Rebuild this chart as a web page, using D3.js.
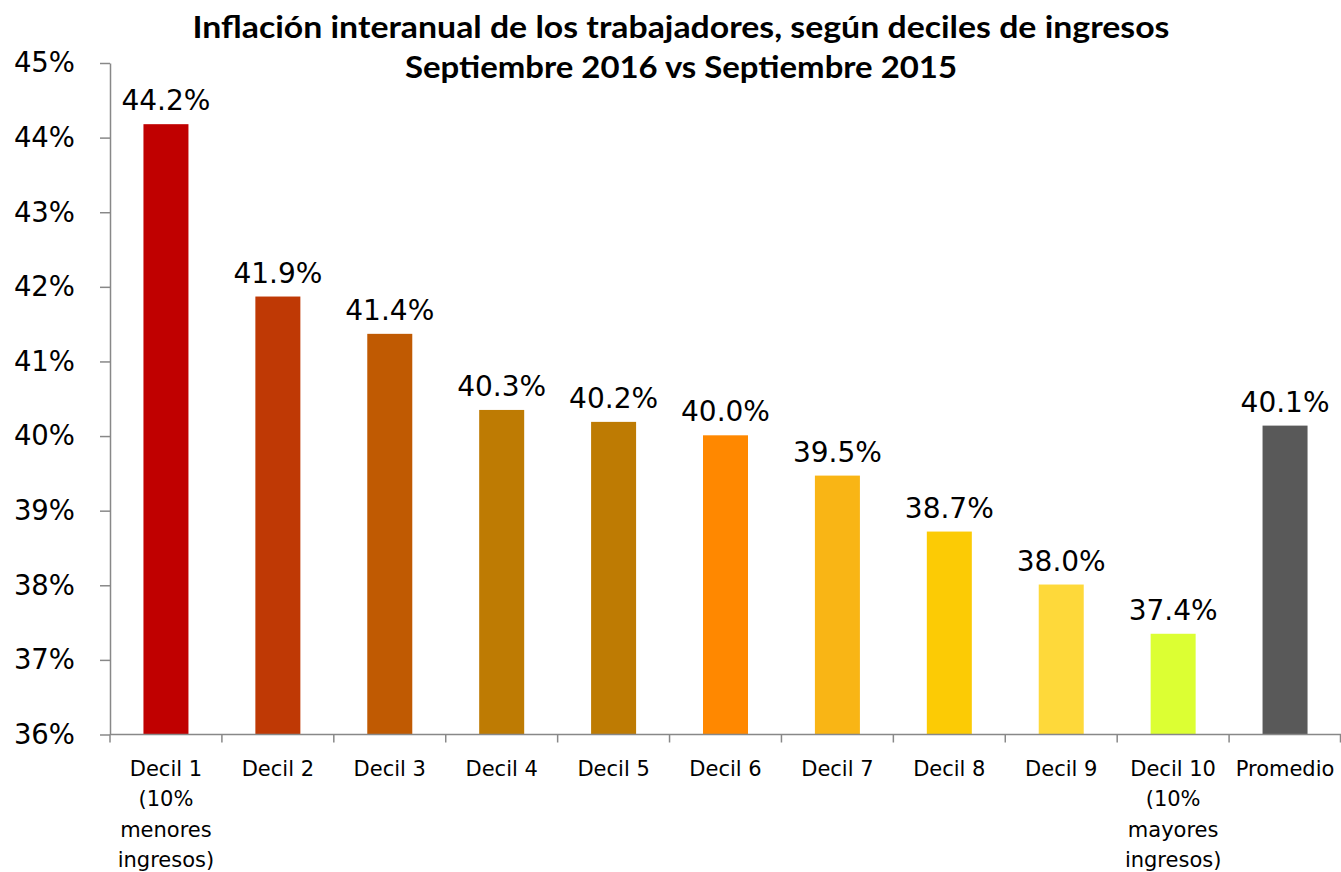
<!DOCTYPE html>
<html><head><meta charset="utf-8">
<script src="https://cdn.jsdelivr.net/npm/d3@7"></script>
<style>body{margin:0;background:#fff}svg{display:block}</style>
</head><body>
<svg id="c" width="1341" height="872"></svg>
<script>
const categories = ["Decil 1|(10%|menores|ingresos)","Decil 2","Decil 3","Decil 4","Decil 5","Decil 6","Decil 7","Decil 8","Decil 9","Decil 10|(10%|mayores|ingresos)","Promedio"];
const values = [44.18, 41.87, 41.37, 40.35, 40.19, 40.01, 39.47, 38.72, 38.01, 37.35, 40.14];
const labels = ["44.2%","41.9%","41.4%","40.3%","40.2%","40.0%","39.5%","38.7%","38.0%","37.4%","40.1%"];
const colors = ["#C00000","#BF3905","#C05A02","#BE7B03","#BE7B03","#FF8800","#F9B515","#FCCB05","#FED93A","#DCFF33","#595959"];
const yTicks = [36,37,38,39,40,41,42,43,44,45];
const titleLines = ["Inflación interanual de los trabajadores, según deciles de ingresos","Septiembre 2016 vs Septiembre 2015"];

const svg = d3.select("#c");
const xb = d3.scaleBand().domain(categories).range([110,1341]);
const y = d3.scaleLinear().domain([36,45]).range([734.5,63]);
const cx = c => xb(c)+xb.bandwidth()/2;

svg.selectAll("rect.bar").data(values).join("rect")
  .attr("x",(d,i)=>cx(categories[i])-22.5)
  .attr("width",45)
  .attr("y",d=>y(d)).attr("height",d=>y(36)-y(d))
  .attr("fill",(d,i)=>colors[i]);

// y axis
const ya = svg.append("g").attr("transform","translate(110,0)")
  .call(d3.axisLeft(y).tickValues(yTicks).tickFormat(d=>d+"%").tickSize(10).tickSizeOuter(0).tickPadding(25));
ya.select(".domain").attr("stroke","#888").attr("stroke-width",1.5);
ya.selectAll(".tick line").attr("stroke","#888").attr("stroke-width",1.5);
ya.selectAll(".tick text").attr("font-family","DejaVu Sans").attr("font-size",27.5).attr("fill","#000");

// x axis
const xa = svg.append("g").attr("transform","translate(0,734.5)");
xa.append("line").attr("x1",110).attr("x2",1341).attr("stroke","#888").attr("stroke-width",1.5);
const edges = categories.map(c=>xb(c)).concat([xb.range()[1]-0.5]);
xa.selectAll("line.t").data(edges).join("line").attr("class","t")
  .attr("x1",d=>d).attr("x2",d=>d).attr("y1",0).attr("y2",8).attr("stroke","#888").attr("stroke-width",1.5);
categories.forEach(c=>{
  const t = xa.append("text").attr("x",cx(c)).attr("y",41)
    .attr("text-anchor","middle").attr("font-family","DejaVu Sans").attr("font-size",21).attr("fill","#000");
  c.split("|").forEach((ln,j)=>t.append("tspan").attr("x",cx(c)).attr("dy",j?30.5:0).text(ln));
});

// data labels
svg.selectAll("text.lbl").data(values).join("text").attr("class","lbl")
  .attr("x",(d,i)=>cx(categories[i]))
  .attr("y",d=>y(d)-14)
  .attr("text-anchor","middle").attr("font-family","DejaVu Sans").attr("font-size",28).attr("fill","#000")
  .text((d,i)=>labels[i]);

// title
const tl = [977, 552];
titleLines.forEach((t,i)=>svg.append("text").attr("x",681).attr("y",38+i*40)
  .attr("text-anchor","middle").attr("font-family","Lato").attr("font-weight","bold").attr("font-size",30)
  .attr("textLength",tl[i]).attr("lengthAdjust","spacingAndGlyphs")
  .attr("fill","#000").text(t));
</script>
</body></html>
